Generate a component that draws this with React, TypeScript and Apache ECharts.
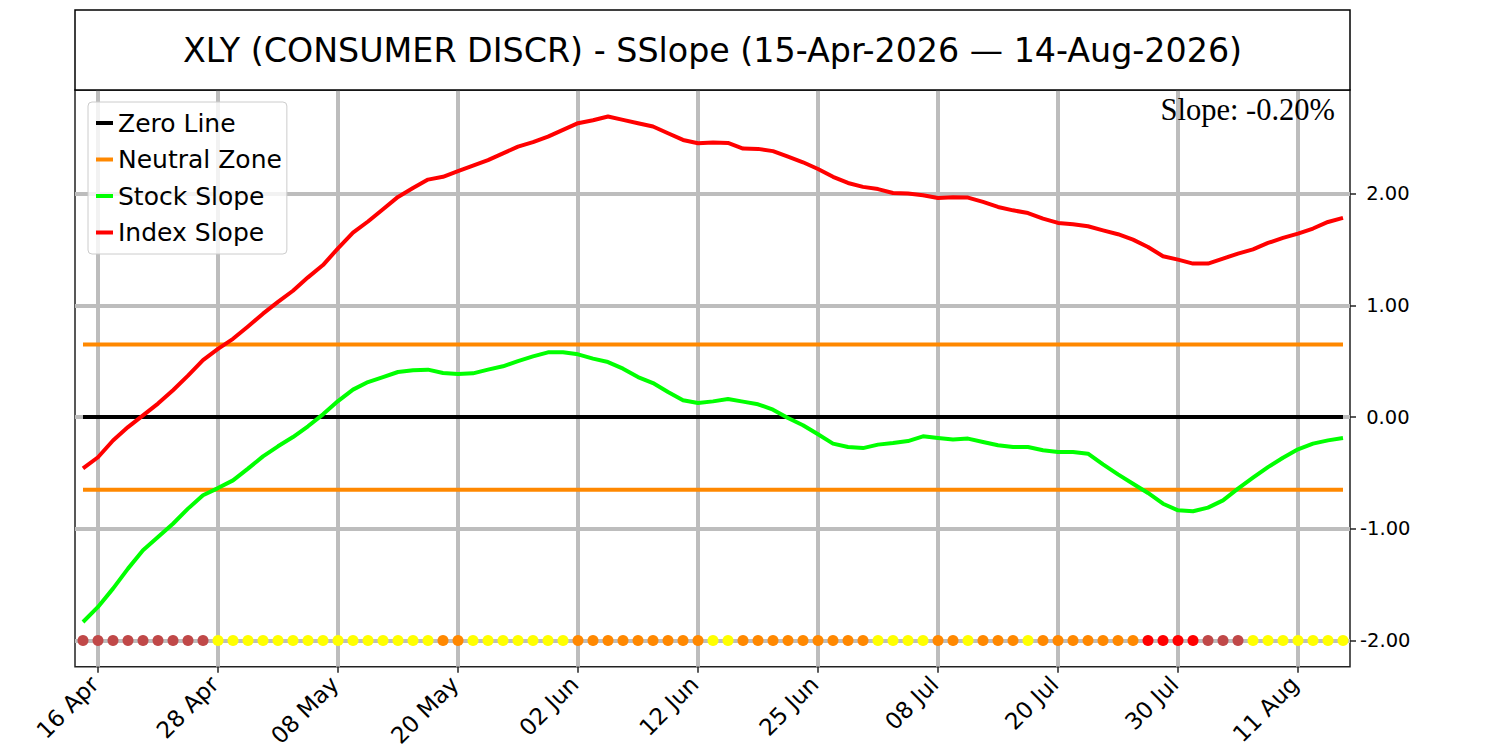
import React, { useEffect, useRef } from "react";
import * as echarts from "echarts";

const titleText = "XLY (CONSUMER DISCR) - SSlope (15-Apr-2026 — 14-Aug-2026)";
const slopeText = "Slope: -0.20%";

const tradingDays = [
  "2026-04-15", "2026-04-16", "2026-04-17", "2026-04-20", "2026-04-21", "2026-04-22", "2026-04-23", "2026-04-24", "2026-04-27", "2026-04-28", "2026-04-29", "2026-04-30",
  "2026-05-01", "2026-05-04", "2026-05-05", "2026-05-06", "2026-05-07", "2026-05-08", "2026-05-11", "2026-05-12", "2026-05-13", "2026-05-14", "2026-05-15", "2026-05-18", "2026-05-19", "2026-05-20", "2026-05-21", "2026-05-22", "2026-05-26", "2026-05-27", "2026-05-28", "2026-05-29",
  "2026-06-01", "2026-06-02", "2026-06-03", "2026-06-04", "2026-06-05", "2026-06-08", "2026-06-09", "2026-06-10", "2026-06-11", "2026-06-12", "2026-06-15", "2026-06-16", "2026-06-17", "2026-06-18", "2026-06-22", "2026-06-23", "2026-06-24", "2026-06-25", "2026-06-26", "2026-06-29", "2026-06-30",
  "2026-07-01", "2026-07-02", "2026-07-06", "2026-07-07", "2026-07-08", "2026-07-09", "2026-07-10", "2026-07-13", "2026-07-14", "2026-07-15", "2026-07-16", "2026-07-17", "2026-07-20", "2026-07-21", "2026-07-22", "2026-07-23", "2026-07-24", "2026-07-27", "2026-07-28", "2026-07-29", "2026-07-30", "2026-07-31",
  "2026-08-03", "2026-08-04", "2026-08-05", "2026-08-06", "2026-08-07", "2026-08-10", "2026-08-11", "2026-08-12", "2026-08-13", "2026-08-14",
];

const indexSlope = [
  -0.46, -0.36, -0.21, -0.09, 0.015, 0.12, 0.24, 0.37, 0.51, 0.61,
  0.70, 0.81, 0.925, 1.03, 1.13, 1.25, 1.36, 1.51, 1.65, 1.75,
  1.86, 1.97, 2.05, 2.125, 2.15, 2.20, 2.25, 2.30, 2.36, 2.42,
  2.46, 2.51, 2.57, 2.63, 2.656, 2.69, 2.66, 2.63, 2.60, 2.54,
  2.48, 2.45, 2.456, 2.453, 2.403, 2.40, 2.38, 2.33, 2.28, 2.22,
  2.15, 2.095, 2.06, 2.04, 2.005, 2.0, 1.985, 1.961, 1.967, 1.964,
  1.925, 1.88, 1.85, 1.826, 1.776, 1.737, 1.725, 1.707, 1.671, 1.636,
  1.588, 1.522, 1.439, 1.409, 1.373, 1.373, 1.418, 1.463, 1.501, 1.558,
  1.603, 1.642, 1.687, 1.746, 1.782,
];

const stockSlope = [
  -1.835, -1.70, -1.536, -1.357, -1.193, -1.074, -0.955, -0.82, -0.70, -0.636,
  -0.567, -0.462, -0.352, -0.262, -0.179, -0.083, 0.024, 0.143, 0.245, 0.313,
  0.358, 0.403, 0.418, 0.424, 0.394, 0.385, 0.391, 0.424, 0.454, 0.501,
  0.543, 0.579, 0.579, 0.561, 0.523, 0.492, 0.433, 0.358, 0.304, 0.224,
  0.15, 0.125, 0.14, 0.161, 0.138, 0.114, 0.066, -0.009, -0.074, -0.155,
  -0.238, -0.269, -0.278, -0.247, -0.233, -0.215, -0.173, -0.188, -0.202, -0.193,
  -0.224, -0.253, -0.269, -0.269, -0.298, -0.313, -0.313, -0.328, -0.424, -0.513,
  -0.597, -0.68, -0.776, -0.835, -0.844, -0.811, -0.746, -0.641, -0.543, -0.448,
  -0.364, -0.289, -0.238, -0.209, -0.188,
];

// B = weak (brown), Y = yellow, O = orange, R = red
const dotStatus = [
  "B", "B", "B", "B", "B", "B", "B", "B", "B",
  "Y", "Y", "Y", "Y", "Y", "Y", "Y", "Y", "Y", "Y", "Y", "Y", "Y", "Y", "Y",
  "O", "O",
  "Y", "Y", "Y", "Y", "Y", "Y", "Y",
  "O", "O", "O", "O", "O", "O", "O", "O", "O",
  "Y", "Y",
  "O", "O", "O", "O", "O", "O", "O", "O", "O",
  "Y", "Y", "Y", "Y",
  "O", "O",
  "Y",
  "O", "O", "O",
  "Y",
  "O", "O", "O", "O", "O", "O", "O",
  "R", "R", "R", "R",
  "B", "B", "B",
  "Y", "Y", "Y", "Y", "Y", "Y", "Y",
];
const statusColors: Record<string, string> = {
  B: "#c04848",
  Y: "#ffff00",
  O: "#ff8800",
  R: "#ff0000",
};

const xTickIndices = [1, 9, 17, 25, 33, 41, 49, 57, 65, 73, 81];
const yTicks = [-2, -1, 0, 1, 2];
const neutralLevel = 0.65;
const zeroLevel = 0;
const dotLevel = -2;

const MONTHS = ["Jan", "Feb", "Mar", "Apr", "May", "Jun", "Jul", "Aug", "Sep", "Oct", "Nov", "Dec"];
function fmtDay(d: string) {
  const parts = d.split("-");
  return parts[2] + " " + MONTHS[parseInt(parts[1], 10) - 1];
}
function fmtY(v: number) {
  const s = v.toFixed(2);
  return v < 0 ? s : "\u00a0" + s;
}

export default function App() {
  const ref = useRef<HTMLDivElement>(null);
  useEffect(() => {
    if (!ref.current) return;
    const chart = echarts.init(ref.current, null, { renderer: "svg" });
    const lastIdx = tradingDays.length - 1;
    const gridColor = "#bdbdbd";
    const font = "DejaVu Sans";
    const lw = 4;
    const option: any = {
      animation: false,
      textStyle: { fontFamily: font },
      grid: {
        left: 75,
        right: 150,
        top: 90,
        bottom: 82,
        show: true,
        borderColor: "#222",
        borderWidth: 1.5,
        backgroundColor: "transparent",
      },
      legend: {
        left: 88,
        top: 102,
        orient: "vertical",
        icon: "rect",
        itemWidth: 17,
        itemHeight: 4,
        itemGap: 9.5,
        padding: [7.5, 5, 8, 8],
        backgroundColor: "rgba(255,255,255,0.8)",
        borderColor: "#cccccc",
        borderWidth: 1,
        borderRadius: 4,
        data: ["Zero Line", "Neutral Zone", "Stock Slope", "Index Slope"],
        textStyle: { fontSize: 25, color: "#000", fontFamily: font, lineHeight: 27 },
        selectedMode: false,
      },
      xAxis: {
        type: "value",
        min: -0.533,
        max: lastIdx + 0.467,
        axisLine: { show: false, onZero: false },
        axisTick: {
          show: true,
          customValues: xTickIndices,
          length: 6,
          lineStyle: { color: "#222", width: 1.5 },
        },
        axisLabel: {
          customValues: xTickIndices,
          formatter: (v: number) => fmtDay(tradingDays[Math.round(v)]),
          rotate: 45,
          fontSize: 23,
          color: "#000",
          margin: 10,
          padding: [0, 5, 0, 0],
          fontFamily: font,
        },
        splitLine: { show: true, lineStyle: { color: gridColor, width: lw } },
      },
      yAxis: {
        type: "value",
        position: "right",
        min: -2.235,
        max: 2.927,
        axisLine: { show: false, onZero: false },
        axisTick: {
          show: true,
          customValues: yTicks,
          length: 6,
          lineStyle: { color: "#222", width: 1.5 },
        },
        axisLabel: {
          customValues: yTicks,
          formatter: fmtY,
          fontSize: 19.5,
          color: "#000",
          margin: 10,
          fontFamily: font,
        },
        splitLine: { show: true, lineStyle: { color: gridColor, width: lw } },
      },
      graphic: [
        {
          type: "rect",
          shape: { x: 75, y: 10, width: 1275, height: 80 },
          style: { fill: "#fff", stroke: "#000", lineWidth: 1.5 },
          z: 1,
        },
        {
          type: "text",
          x: 712.5,
          y: 50,
          style: {
            text: titleText,
            fontSize: 33.3,
            fontFamily: font,
            fill: "#000",
            align: "center",
            verticalAlign: "middle",
          },
          z: 2,
        },
        {
          type: "text",
          x: 1335,
          y: 110,
          style: {
            text: slopeText,
            fontSize: 30.5,
            fontFamily: "Liberation Serif",
            fill: "#000",
            align: "right",
            verticalAlign: "middle",
          },
          z: 10,
        },
      ],
      series: [
        {
          name: "Zero Line",
          type: "line",
          data: [[0, zeroLevel], [lastIdx, zeroLevel]],
          symbol: "none",
          itemStyle: { color: "#000000" },
          lineStyle: { color: "#000000", width: lw },
          z: 2,
        },
        {
          name: "Neutral Zone",
          type: "line",
          data: [[0, neutralLevel], [lastIdx, neutralLevel]],
          symbol: "none",
          itemStyle: { color: "#ff8800" },
          lineStyle: { color: "#ff8800", width: lw },
          z: 2,
        },
        {
          name: "Neutral Zone",
          type: "line",
          data: [[0, -neutralLevel], [lastIdx, -neutralLevel]],
          symbol: "none",
          itemStyle: { color: "#ff8800" },
          lineStyle: { color: "#ff8800", width: lw },
          z: 2,
        },
        {
          name: "Stock Slope",
          type: "line",
          data: stockSlope.map((v, i) => [i, v]),
          symbol: "none",
          itemStyle: { color: "#00ff00" },
          lineStyle: { color: "#00ff00", width: lw, join: "round" },
          z: 3,
        },
        {
          name: "Index Slope",
          type: "line",
          data: indexSlope.map((v, i) => [i, v]),
          symbol: "none",
          itemStyle: { color: "#ff0000" },
          lineStyle: { color: "#ff0000", width: lw, join: "round" },
          z: 3,
        },
        {
          name: "Status",
          type: "scatter",
          data: dotStatus.map((s, i) => ({
            value: [i, dotLevel],
            itemStyle: { color: statusColors[s], opacity: 1 },
          })),
          symbol: "circle",
          symbolSize: 11,
          itemStyle: { opacity: 1 },
          z: 4,
        },
      ],
    };
    chart.setOption(option);
    return () => chart.dispose();
  }, []);
  return (
    <div
      ref={ref}
      style={{ position: "fixed", left: 0, top: 0, width: 1500, height: 750, background: "#fff" }}
    />
  );
}
